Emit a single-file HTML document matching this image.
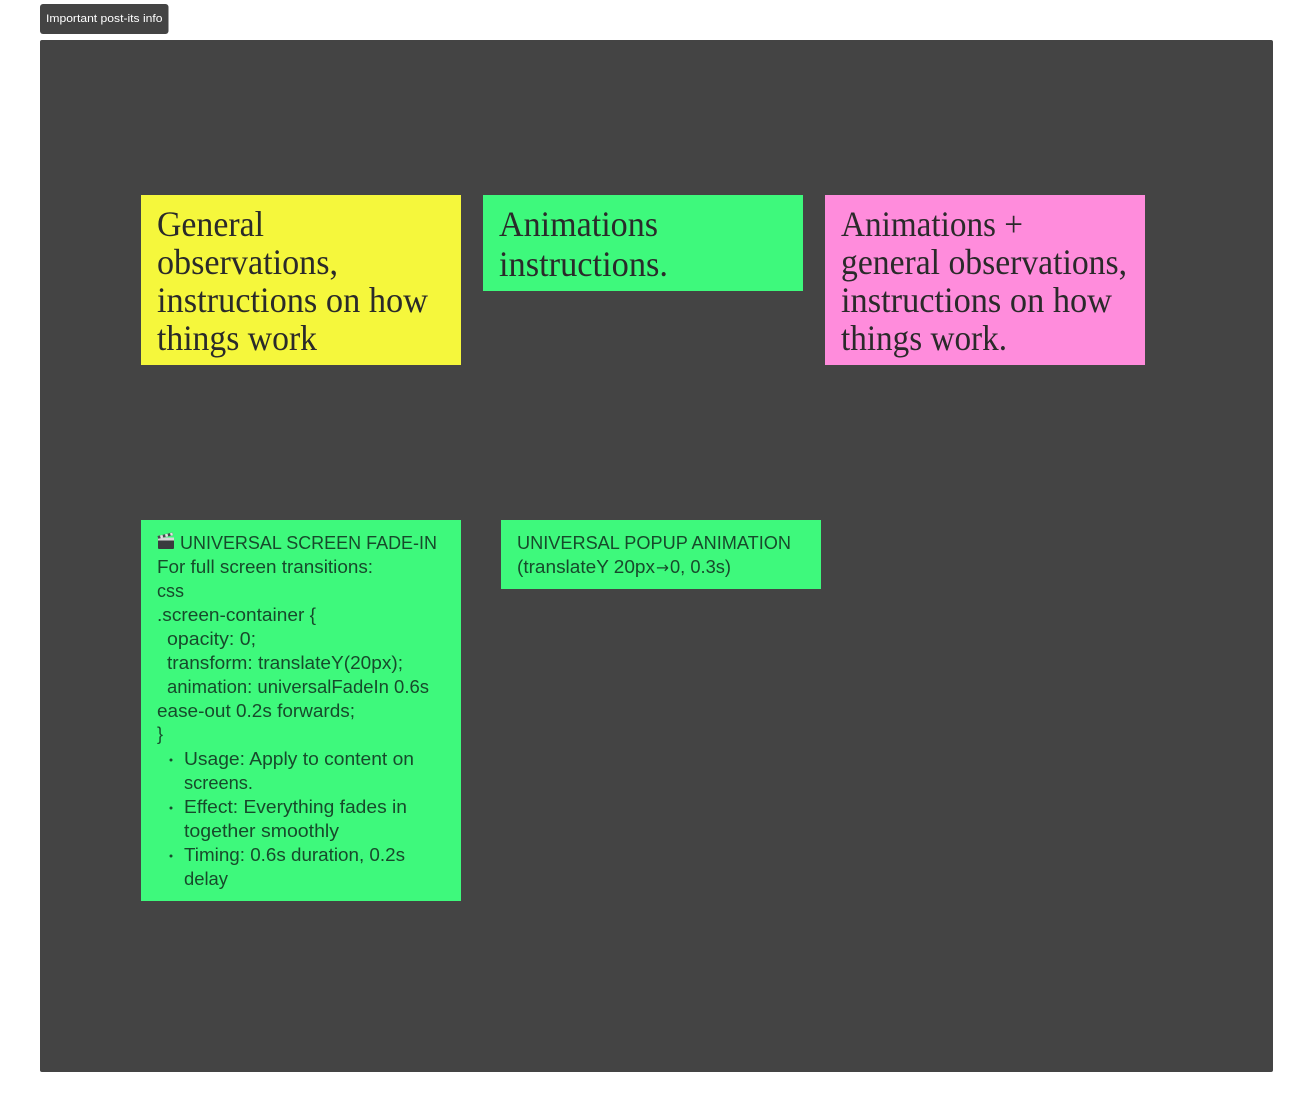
<!DOCTYPE html>
<html lang="en">
<head>
<meta charset="utf-8">
<title>Important post-its info</title>
<style>
html,body{margin:0;padding:0;background:#fff;width:1313px;height:1112px;overflow:hidden}
svg{display:block}
.h{font-family:"Liberation Serif",serif;font-size:36px;fill:#2a2a2a}
.b{font-family:"Liberation Sans",sans-serif;font-size:18px;fill:#174a2b}
.l{font-family:"Liberation Sans",sans-serif;font-size:11px;fill:#fff}
.a{font-family:"DejaVu Sans",sans-serif;font-size:16px;fill:#174a2b}
</style>
</head>
<body>
<svg width="1313" height="1112" viewBox="0 0 1313 1112" xmlns="http://www.w3.org/2000/svg">
<rect width="1313" height="1112" fill="#fff"/>
<rect x="40" y="4" width="128.500" height="30" rx="3" fill="#444444"/>
<text class="l" x="46" y="22" textLength="116.500" lengthAdjust="spacingAndGlyphs">Important post-its info</text>
<rect x="40" y="40" width="1233" height="1032" rx="2" fill="#444444"/>

<rect x="141" y="195" width="320" height="170" fill="#F5F73C"/>
<rect x="483" y="195" width="320" height="96" fill="#3EF97C"/>
<rect x="825" y="195" width="320" height="170" fill="#FF8CDC"/>
<rect x="141" y="520" width="320" height="381" fill="#3EF97C"/>
<rect x="501" y="520" width="320" height="69" fill="#3EF97C"/>

<text class="h" x="157" y="236" textLength="107" lengthAdjust="spacingAndGlyphs">General</text>
<text class="h" x="157" y="274" textLength="181" lengthAdjust="spacingAndGlyphs">observations,</text>
<text class="h" x="157" y="312" textLength="271" lengthAdjust="spacingAndGlyphs">instructions on how</text>
<text class="h" x="157" y="350" textLength="160" lengthAdjust="spacingAndGlyphs">things work</text>
<text class="h" x="499" y="236" textLength="159" lengthAdjust="spacingAndGlyphs">Animations</text>
<text class="h" x="499" y="276" textLength="169" lengthAdjust="spacingAndGlyphs">instructions.</text>
<text class="h" x="841" y="236" textLength="182" lengthAdjust="spacingAndGlyphs">Animations +</text>
<text class="h" x="841" y="274" textLength="286" lengthAdjust="spacingAndGlyphs">general observations,</text>
<text class="h" x="841" y="312" textLength="271" lengthAdjust="spacingAndGlyphs">instructions on how</text>
<text class="h" x="841" y="350" textLength="166" lengthAdjust="spacingAndGlyphs">things work.</text>

<!-- clapperboard emoji -->
<g>
<rect x="158" y="540" width="16" height="9" rx="1" fill="#3a3a3e"/>
<rect x="158" y="537.500" width="16" height="3" fill="#d8d8d8"/>
<path d="M157.500 536 L172.500 532.500 L173.200 535.200 L158.200 538.800 Z" fill="#4a4a4e"/>
<path d="M160 535.500 L162.500 534.900 L163.200 537.600 L160.700 538.200 Z M165 534.300 L167.500 533.700 L168.200 536.400 L165.700 537 Z M170 533.200 L172.300 532.600 L173 535.200 L170.700 535.800 Z" fill="#e4e4e4"/>
</g>

<text class="b" x="180" y="549" textLength="257" lengthAdjust="spacingAndGlyphs">UNIVERSAL SCREEN FADE-IN</text>
<text class="b" x="157" y="573" textLength="216" lengthAdjust="spacingAndGlyphs">For full screen transitions:</text>
<text class="b" x="157" y="597" textLength="27" lengthAdjust="spacingAndGlyphs">css</text>
<text class="b" x="157" y="621" textLength="159" lengthAdjust="spacingAndGlyphs">.screen-container {</text>
<text class="b" x="167" y="645" textLength="89" lengthAdjust="spacingAndGlyphs">opacity: 0;</text>
<text class="b" x="167" y="669" textLength="236" lengthAdjust="spacingAndGlyphs">transform: translateY(20px);</text>
<text class="b" x="167" y="693" textLength="262" lengthAdjust="spacingAndGlyphs">animation: universalFadeIn 0.6s</text>
<text class="b" x="157" y="717" textLength="198" lengthAdjust="spacingAndGlyphs">ease-out 0.2s forwards;</text>
<text class="b" x="157" y="740">}</text>
<circle cx="171" cy="760" r="1.500" fill="#174a2b"/>
<text class="b" x="184" y="765" textLength="230" lengthAdjust="spacingAndGlyphs">Usage: Apply to content on</text>
<text class="b" x="184" y="789" textLength="69" lengthAdjust="spacingAndGlyphs">screens.</text>
<circle cx="171" cy="808" r="1.500" fill="#174a2b"/>
<text class="b" x="184" y="813" textLength="223" lengthAdjust="spacingAndGlyphs">Effect: Everything fades in</text>
<text class="b" x="184" y="837" textLength="155" lengthAdjust="spacingAndGlyphs">together smoothly</text>
<circle cx="171" cy="856" r="1.500" fill="#174a2b"/>
<text class="b" x="184" y="861" textLength="221" lengthAdjust="spacingAndGlyphs">Timing: 0.6s duration, 0.2s</text>
<text class="b" x="184" y="885" textLength="44" lengthAdjust="spacingAndGlyphs">delay</text>

<text class="b" x="517" y="549" textLength="274" lengthAdjust="spacingAndGlyphs">UNIVERSAL POPUP ANIMATION</text>
<text class="b" x="517" y="573" textLength="138" lengthAdjust="spacingAndGlyphs">(translateY 20px</text>
<text class="a" x="656" y="573" textLength="13" lengthAdjust="spacingAndGlyphs">→</text>
<text class="b" x="670" y="573" textLength="61" lengthAdjust="spacingAndGlyphs">0, 0.3s)</text>
</svg>
</body>
</html>
